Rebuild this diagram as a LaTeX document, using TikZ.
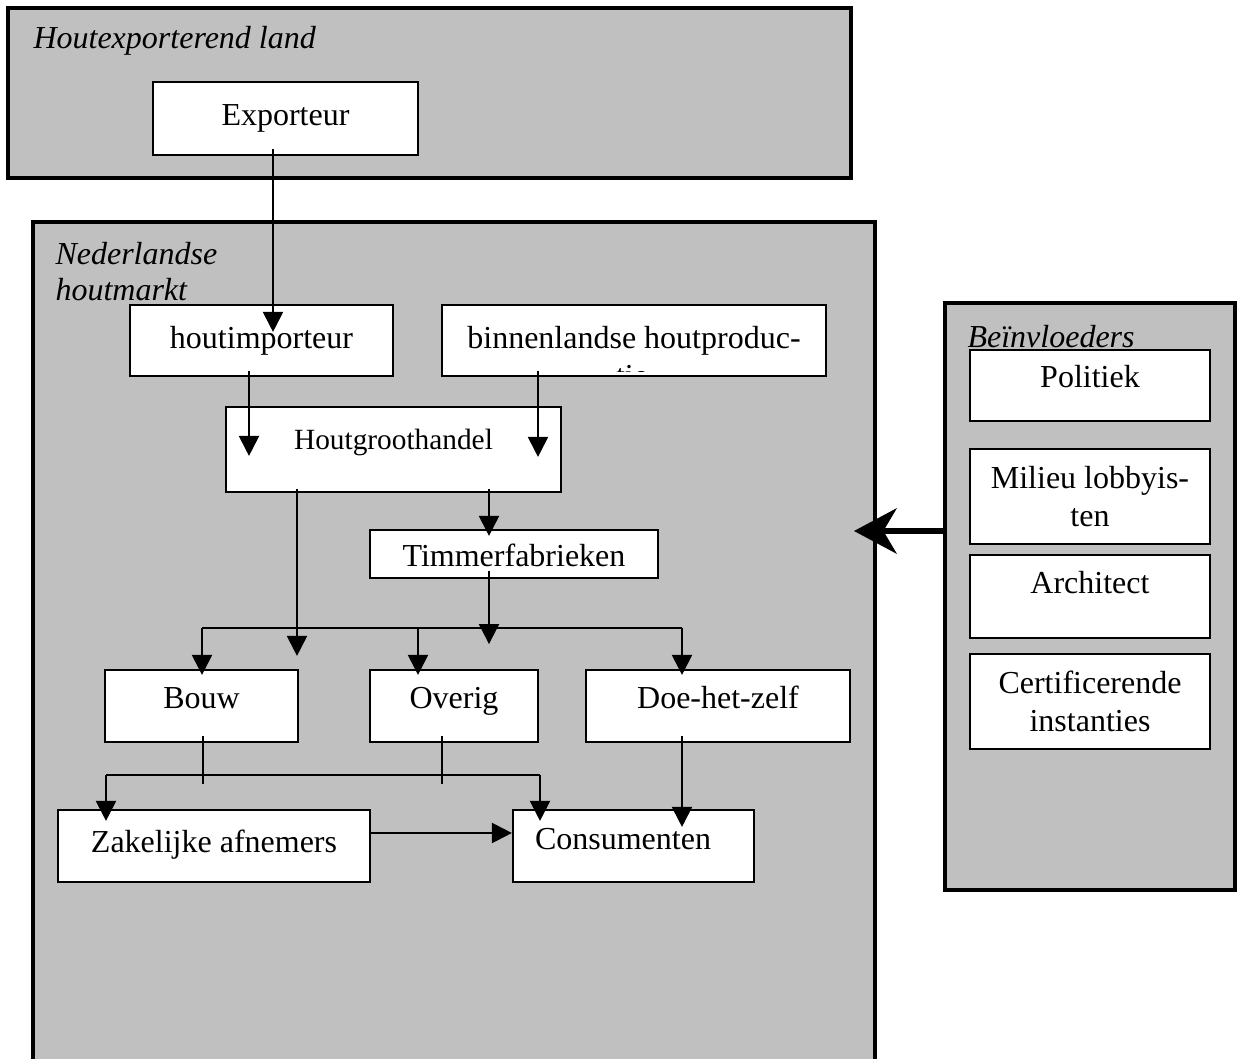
\documentclass[tikz,border=0pt]{standalone}
\usepackage{fontspec}
\setmainfont{Liberation Serif}
\usetikzlibrary{arrows.meta,calc}
\definecolor{panelgray}{HTML}{C0C0C0}

\tikzset{
  frame/.style={draw,line width=1.5pt,fill=panelgray,inner sep=0pt},
  box/.style={draw,line width=0.8pt,fill=white,inner sep=0pt,align=center,
    font=\fontsize{12}{14}\selectfont},
  lbl/.style={anchor=west,inner sep=0pt,align=left,
    font=\fontsize{12}{13.5}\selectfont\itshape},
  dims/.style 2 args={minimum width=#1*0.375pt,minimum height=#2*0.375pt},
  txt/.style 2 args={text height=#1,text depth=#2},
  wire/.style={line width=0.75pt},
  arr/.style={line width=0.75pt,-{Triangle[length=7.5pt,width=7.5pt]}},
  bigarr/.style={line width=1.9pt,-{Stealth[length=16pt,width=17pt,inset=5pt]}}
}

\begin{document}
\begin{tikzpicture}[x=0.375pt,y=-0.375pt]
  \useasboundingbox (0,0) rectangle (1239,1059);
  \clip (0,0) rectangle (1239,1059);

  % panels
  \node[frame,dims={843}{170}] (land) at (429.5,93) {};
  \node[frame,dims={842}{850}] (markt) at (454,647) {};
  \node[frame,dims={290}{587}] (infl) at (1090,596.5) {};
  \node[lbl] (landlbl) at (33,41) {Houtexporterend land};
  \node[lbl] (marktlbl) at (55,272) {Nederlandse\\houtmarkt};
  \node[lbl] (infllbl) at (967,337) {Beïnvloeders};

  % chain
  \node[box,dims={265}{73}] (exporteur) at (285.5,118.5) {Exporteur};
  \node[box,dims={263}{71}] (houtimp) at (261.5,340.5) {houtimporteur};
  \node[box,dims={384}{71}] (binnen) at (634,340.5) {binnenlandse houtproduc-};
  \begin{scope}
    \clip ($(binnen.south west)+(2,-6)$) rectangle ($(binnen.north east)+(-2,2)$);
    \node[anchor=base,inner sep=0pt,font=\fontsize{12}{14}\selectfont] (binnentail) at (632,386) {tie};
  \end{scope}
  \node[box,dims={335}{85},txt={8pt}{7.7pt},font=\fontsize{11}{13}\selectfont] (groothandel) at (393.5,449.5) {Houtgroothandel};
  \node[box,dims={288}{48},txt={11.5pt}{2.5pt}] (timmer) at (514,554) {Timmerfabrieken};
  \node[box,dims={193}{72},txt={8.5pt}{7pt}] (bouw) at (201.5,706) {Bouw};
  \node[box,dims={168}{72},txt={8.5pt}{7pt}] (overig) at (454,706) {Overig};
  \node[box,dims={264}{72},txt={8.5pt}{7pt}] (dhz) at (718,706) {Doe-het-zelf};
  \node[box,dims={312}{72},txt={8.5pt}{4pt}] (zakelijk) at (214,846) {Zakelijke afnemers};
  \node[box,dims={241}{72},txt={8.5pt}{6.2pt},text width=197*0.375pt,align=left] (consument) at (633.5,846) {Consumenten};

  % influencers
  \node[box,dims={240}{71},txt={8.5pt}{7pt}] (politiek) at (1090,385.5) {Politiek};
  \node[box,dims={240}{95}] (milieu) at (1090,496.5) {Milieu lobbyis-\\ten};
  \node[box,dims={240}{83},txt={8.5pt}{10.7pt}] (architect) at (1090,596.5) {Architect};
  \node[box,dims={240}{95}] (certif) at (1090,701.5) {Certificerende\\instanties};

  % flows
  \draw[arr] ($(exporteur.south)+(-12.5,-7)$) -- ($(houtimp.north)+(11.5,28)$);
  \draw[arr] ($(houtimp.south)+(-12.5,-6)$) -- ($(groothandel.north)+(-144.5,50)$);
  \draw[arr] ($(binnen.south)+(-96,-6)$) -- ($(groothandel.north)+(144.5,51)$);
  \draw[arr] ($(groothandel.south)+(-96.5,-4)$) -- ($(bouw.north)+(95.5,-13)$);
  \draw[arr] ($(groothandel.south)+(95.5,-4)$) -- ($(timmer.north)+(-25,7)$);

  \coordinate (busL) at ($(bouw.north)+(0.5,-41)$);
  \coordinate (busR) at ($(dhz.north)+(-36,-41)$);
  \draw[wire] (busL) -- (busR);
  \draw[arr] ($(timmer.south)+(-25,-8)$) -- ($(timmer.south)+(-25,65)$);
  \draw[arr] (busL) -- ($(bouw.north)+(0.5,6)$);
  \draw[arr] ($(overig.north)+(-36,-41)$) -- ($(overig.north)+(-36,6)$);
  \draw[arr] (busR) -- ($(dhz.north)+(-36,6)$);

  \coordinate (salesL) at ($(zakelijk.north)+(-108,-34)$);
  \coordinate (salesR) at ($(consument.north)+(-93.5,-34)$);
  \draw[wire] ($(bouw.south)+(1.5,-7)$) -- ($(bouw.south)+(1.5,41)$);
  \draw[wire] ($(overig.south)+(-12,-7)$) -- ($(overig.south)+(-12,41)$);
  \draw[wire] (salesL) -- (salesR);
  \draw[arr] (salesL) -- ($(zakelijk.north)+(-108,12)$);
  \draw[arr] (salesR) -- ($(consument.north)+(-93.5,12)$);
  \draw[arr] ($(dhz.south)+(-36,-7)$) -- ($(consument.north)+(48.5,18)$);
  \draw[arr] ($(zakelijk.east)+(0,-13)$) -- ($(consument.west)+(0,-13)$);

  \draw[bigarr] ($(infl.west)+(0,-65.5)$) -- ($(markt.east)+(-23,-116)$);
\end{tikzpicture}
\end{document}
